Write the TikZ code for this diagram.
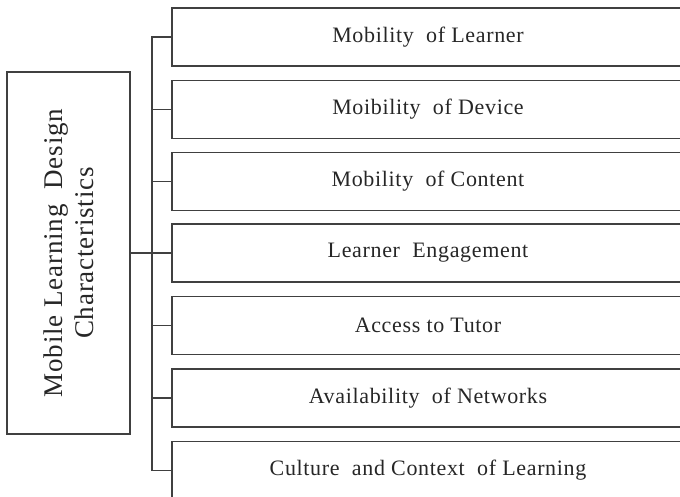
\documentclass[tikz,border=0pt]{standalone}
\usepackage{fontspec}
\setmainfont{Liberation Serif}
\newfontfamily\cellfont[LetterSpace=3]{Liberation Serif}
\usetikzlibrary{positioning}

\begin{document}
\begin{tikzpicture}[x=1pt, y=-1pt, line width=1.2pt, draw=black!75,
   rootbox/.style={rectangle, draw=black!75, rotate=90, minimum width=362pt, minimum height=123pt,
     align=center, font=\cellfont\fontsize{27pt}{31pt}\selectfont, text=black!85},
   cell/.style={rectangle, draw=black!75, minimum width=512pt, minimum height=58pt,
     font=\cellfont\fontsize{22pt}{26pt}\selectfont, text=black!85}]
  \clip (0,0) rectangle (680,497);
  \node[rootbox] (main) at (68.5,253) {Mobile Learning\ \ Design\\Characteristics};
  \node[cell] (c1) at (428,37)    {Mobility\ \ of Learner};
  \node[cell] (c2) at (428,109.2) {Moibility\ \ of Device};
  \node[cell] (c3) at (428,181.4) {Mobility\ \ of Content};
  \node[cell] (c4) at (428,253)   {Learner\ \ Engagement};
  \node[cell] (c5) at (428,325.8) {Access to Tutor};
  \node[cell] (c6) at (428,398)   {Availability\ \ of Networks};
  \node[cell] (c7) at (428,470.2) {Culture\ \ and Context\ \ of Learning};
  \coordinate (spine) at (152,253);
  % bracket
  \draw (main.south) -- (spine);
  \draw (c1.west) -| (spine) |- (c7.west);
  \draw (c2.west) -- (c2.west -| spine);
  \draw (c3.west) -- (c3.west -| spine);
  \draw (c4.west) -- (spine);
  \draw (c5.west) -- (c5.west -| spine);
  \draw (c6.west) -- (c6.west -| spine);
\end{tikzpicture}
\end{document}
